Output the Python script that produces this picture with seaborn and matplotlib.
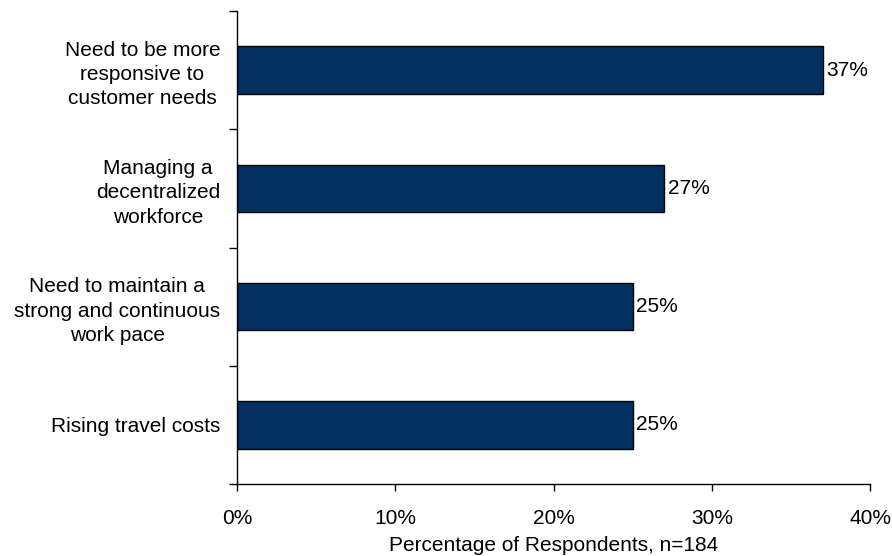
import matplotlib
matplotlib.use("Agg")
import matplotlib.pyplot as plt
import seaborn as sns
import pandas as pd
from matplotlib.ticker import FuncFormatter

categories = [
    "Need to be more\nresponsive to\ncustomer needs",
    "Managing a\ndecentralized\nworkforce",
    "Need to maintain a\nstrong and continuous\nwork pace",
    "Rising travel costs",
]
values = [37, 27, 25, 25]
x_ticks = [0, 10, 20, 30, 40]
x_label = "Percentage of Respondents, n=184"

sns.set_theme(style="white")
plt.rcParams["font.family"] = ["Liberation Sans", "DejaVu Sans"]
plt.rcParams["text.color"] = "black"
plt.rcParams["axes.labelcolor"] = "black"
plt.rcParams["xtick.color"] = "black"
plt.rcParams["ytick.color"] = "black"

FS = 15.0

df = pd.DataFrame({"cat": categories, "val": values})

fig = plt.figure(figsize=(8.92, 5.56), dpi=100)
ax = fig.add_axes([237 / 892, 1 - 484 / 556, (870 - 237) / 892, (484 - 11) / 556])

sns.barplot(data=df, x="val", y="cat", orient="h", color="#04305F",
            saturation=1, width=0.4, edgecolor="black", linewidth=1.0, ax=ax)

ax.set_xlim(0, 40)
ax.set_ylim(len(categories) - 0.5, -0.5)
ax.set_xticks(x_ticks)
ax.xaxis.set_major_formatter(FuncFormatter(lambda v, p: f"{v:.0f}%"))
ax.set_yticks([i + 0.5 for i in range(-1, len(categories))], minor=False)
ax.set_yticklabels([])
ax.set_yticks(range(len(categories)), minor=True)
ax.set_yticklabels(categories, minor=True)
ax.tick_params(axis="y", which="minor", length=0, pad=12, labelsize=FS, labelcolor="black")
ax.tick_params(axis="y", which="major", direction="out", length=6, width=1, color="black", left=True)
ax.tick_params(axis="x", direction="out", length=5, width=1, color="black", bottom=True, pad=13,
               labelsize=FS, labelcolor="black")
for lab in ax.get_yticklabels(minor=True):
    lab.set_multialignment("center")
    lab.set_linespacing(1.35)

ax.set_xlabel(x_label, fontsize=FS, labelpad=6, color="black")
ax.set_ylabel("")

for s in ["top", "right"]:
    ax.spines[s].set_visible(False)
for s in ["left", "bottom"]:
    ax.spines[s].set_color("black")
    ax.spines[s].set_linewidth(1)

for i, v in enumerate(values):
    ax.annotate(f"{v}%", xy=(v, i), xytext=(2.5, 0), textcoords="offset points",
                va="center", ha="left", fontsize=FS, color="black")

fig.savefig("out.png", dpi=100)
